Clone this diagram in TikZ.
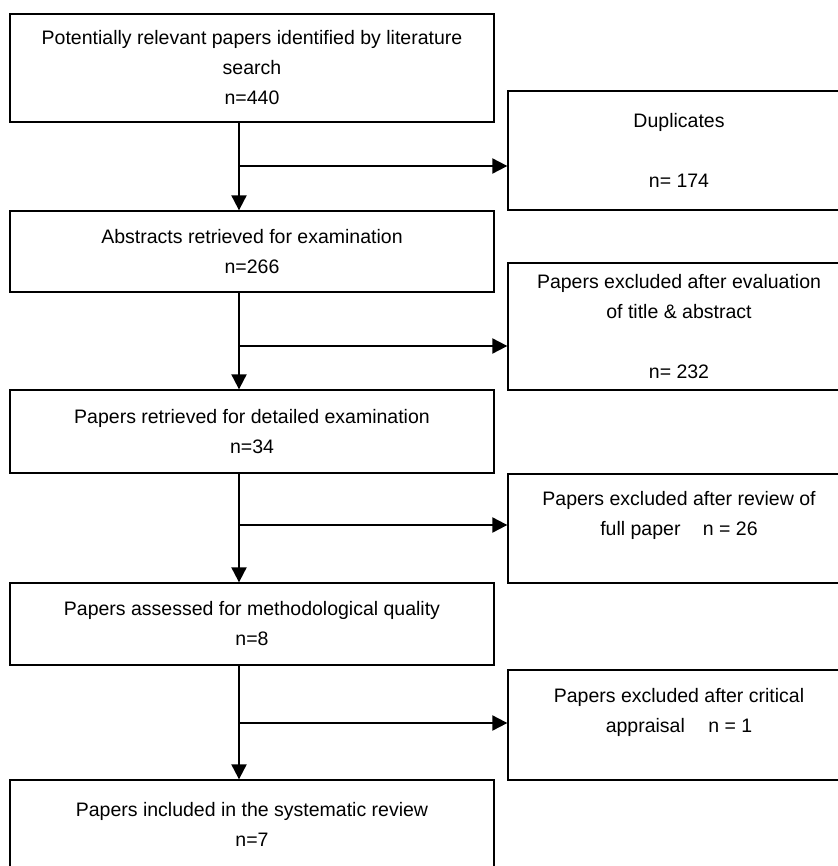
\documentclass[tikz,border=0pt]{standalone}
\usepackage{fontspec}
\setmainfont{Liberation Sans}
\usetikzlibrary{arrows.meta}
\begin{document}
\begin{tikzpicture}[x=1pt,y=-1pt]
    \tikzset{box/.style={draw, line width=1.3pt, inner sep=0pt, align=center, font=\fontsize{19.5}{30}\selectfont}}
    \tikzset{leftbox/.style={box, minimum width=484pt}}
    \tikzset{rightbox/.style={box, minimum width=342pt}}
    \tikzset{flow/.style={-{Triangle[length=15pt,width=15pt]}, line width=2pt}}
    \useasboundingbox (0,0) rectangle (837,866);

    \node[leftbox, minimum height=108pt] (search) at (252,68) {Potentially relevant papers identified by literature\\search\\n=440};
    \node[leftbox, minimum height=81pt] (abs) at (252,251.5) {Abstracts retrieved for examination\\n=266};
    \node[leftbox, minimum height=83pt] (detail) at (252,431.5) {Papers retrieved for detailed examination\\n=34};
    \node[leftbox, minimum height=82pt] (quality) at (252,624) {Papers assessed for methodological quality\\n=8};
    \node[leftbox, minimum height=88pt] (incl) at (252,824) {Papers included in the systematic review\\n=7};

    \node[rightbox, minimum height=119pt] (dup) at (679,150.5) {Duplicates\\[30pt]n= 174};
    \node[rightbox, minimum height=127pt] (ex1) at (679,326.5) {Papers excluded after evaluation\\of title \& abstract\\[30pt]n= 232};
    \node[rightbox, minimum height=109pt] (ex2) at (679,528.5) {Papers excluded after review of\\full paper\hspace{17pt} n = 26\\\mbox{}};
    \node[rightbox, minimum height=110pt] (ex3) at (679,725) {Papers excluded after critical\\appraisal\hspace{18pt} n = 1\\\mbox{}};

    \coordinate (j1) at (239,166);
    \coordinate (j2) at (239,346);
    \coordinate (j3) at (239,525);
    \coordinate (j4) at (239,723);

    \draw[flow] ([xshift=-13pt]search.south) -- ([xshift=-13pt]abs.north);
    \draw[flow] ([xshift=-13pt]abs.south) -- ([xshift=-13pt]detail.north);
    \draw[flow] ([xshift=-13pt]detail.south) -- ([xshift=-13pt]quality.north);
    \draw[flow] ([xshift=-13pt]quality.south) -- ([xshift=-13pt]incl.north);

    \draw[flow] (j1) -- (j1 -| dup.west);
    \draw[flow] (j2) -- (j2 -| ex1.west);
    \draw[flow] (j3) -- (j3 -| ex2.west);
    \draw[flow] (j4) -- (j4 -| ex3.west);
\end{tikzpicture}
\end{document}
